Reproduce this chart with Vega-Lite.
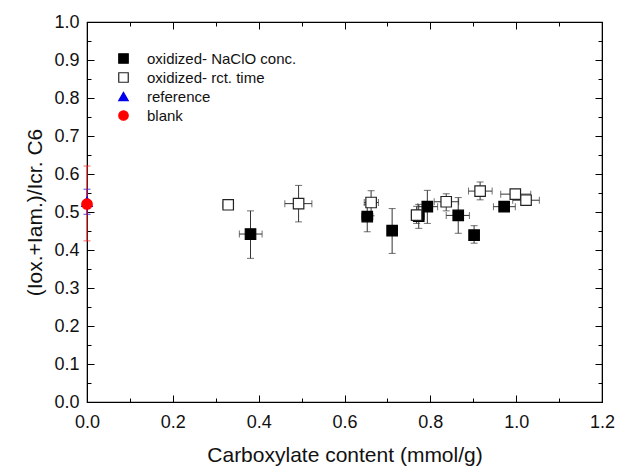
{
  "$schema": "https://vega.github.io/schema/vega-lite/v6.json",
  "width": 515,
  "height": 380,
  "autosize": {"type": "none"},
  "padding": {"left": 87, "top": 22, "right": 17, "bottom": 66},
  "background": "white",
  "config": {
    "font": "Liberation Sans",
    "view": {"stroke": "black", "strokeWidth": 1.2},
    "axis": {
      "domainColor": "black",
      "tickColor": "black",
      "grid": false,
      "labelFlush": false,
      "labelFont": "Liberation Sans",
      "titleFont": "Liberation Sans",
      "labelColor": "#111",
      "titleColor": "#111",
      "labelFontSize": 18,
      "titleFontSize": 21,
      "titleFontWeight": "normal"
    }
  },
  "data": {
    "values": [
      {"series": "oxidized- NaClO conc.", "x": 0.381, "y": 0.442, "xlo": 0.355, "xhi": 0.408, "ylo": 0.378, "yhi": 0.503},
      {"series": "oxidized- NaClO conc.", "x": 0.653, "y": 0.488, "xlo": 0.640, "xhi": 0.666, "ylo": 0.448, "yhi": 0.520},
      {"series": "oxidized- NaClO conc.", "x": 0.711, "y": 0.451, "xlo": 0.705, "xhi": 0.717, "ylo": 0.391, "yhi": 0.509},
      {"series": "oxidized- NaClO conc.", "x": 0.773, "y": 0.489, "xlo": 0.760, "xhi": 0.786, "ylo": 0.457, "yhi": 0.520},
      {"series": "oxidized- NaClO conc.", "x": 0.793, "y": 0.514, "xlo": 0.771, "xhi": 0.817, "ylo": 0.470, "yhi": 0.557},
      {"series": "oxidized- NaClO conc.", "x": 0.865, "y": 0.491, "xlo": 0.837, "xhi": 0.891, "ylo": 0.444, "yhi": 0.538},
      {"series": "oxidized- NaClO conc.", "x": 0.902, "y": 0.439, "xlo": 0.895, "xhi": 0.909, "ylo": 0.418, "yhi": 0.464},
      {"series": "oxidized- NaClO conc.", "x": 0.972, "y": 0.514, "xlo": 0.947, "xhi": 0.998, "ylo": 0.506, "yhi": 0.522},
      {"series": "oxidized- rct. time", "x": 0.329, "y": 0.519, "xlo": 0.317, "xhi": 0.341, "ylo": 0.508, "yhi": 0.530},
      {"series": "oxidized- rct. time", "x": 0.493, "y": 0.522, "xlo": 0.461, "xhi": 0.524, "ylo": 0.474, "yhi": 0.570},
      {"series": "oxidized- rct. time", "x": 0.662, "y": 0.525, "xlo": 0.646, "xhi": 0.679, "ylo": 0.490, "yhi": 0.556},
      {"series": "oxidized- rct. time", "x": 0.768, "y": 0.492, "xlo": 0.756, "xhi": 0.780, "ylo": 0.470, "yhi": 0.515},
      {"series": "oxidized- rct. time", "x": 0.837, "y": 0.527, "xlo": 0.809, "xhi": 0.866, "ylo": 0.503, "yhi": 0.548},
      {"series": "oxidized- rct. time", "x": 0.916, "y": 0.555, "xlo": 0.889, "xhi": 0.944, "ylo": 0.532, "yhi": 0.579},
      {"series": "oxidized- rct. time", "x": 0.998, "y": 0.547, "xlo": 0.964, "xhi": 1.034, "ylo": 0.535, "yhi": 0.558},
      {"series": "oxidized- rct. time", "x": 1.023, "y": 0.531, "xlo": 0.992, "xhi": 1.054, "ylo": 0.523, "yhi": 0.539},
      {"series": "reference", "x": 0.0, "y": 0.527, "xlo": 0.0, "xhi": 0.0, "ylo": 0.494, "yhi": 0.560},
      {"series": " blank", "x": 0.0, "y": 0.521, "xlo": 0.0, "xhi": 0.0, "ylo": 0.424, "yhi": 0.621}
    ]
  },
  "layer": [
    {
      "mark": {"type": "errorbar", "ticks": {"size": 7}, "thickness": 1},
      "encoding": {
        "x": {"field": "x", "type": "quantitative", "scale": {"domain": [0, 1.2], "nice": false, "zero": false},
          "axis": {
            "values": [0, 0.1, 0.2, 0.3, 0.4, 0.5, 0.6, 0.7, 0.8, 0.9, 1.0, 1.1, 1.2],
            "labelExpr": "round(datum.value*10) % 2 == 0 ? format(datum.value, '.1f') : ''",
            "tickSize": {"condition": {"test": "round(datum.value*10) % 2 == 0", "value": -7}, "value": -4},
            "labelPadding": 18,
            "title": "Carboxylate content (mmol/g)",
            "titlePadding": 13
          }},
        "y": {"field": "ylo", "type": "quantitative", "scale": {"domain": [0, 1], "nice": false, "zero": false},
          "axis": {
            "values": [0, 0.05, 0.1, 0.15, 0.2, 0.25, 0.3, 0.35, 0.4, 0.45, 0.5, 0.55, 0.6, 0.65, 0.7, 0.75, 0.8, 0.85, 0.9, 0.95, 1.0],
            "labelExpr": "round(datum.value*20) % 2 == 0 ? format(datum.value, '.1f') : ''",
            "tickSize": {"condition": {"test": "round(datum.value*20) % 2 == 0", "value": -7}, "value": -4},
            "labelPadding": 15,
            "title": "(Iox.+Iam.)/Icr. C6",
            "titlePadding": 8
          }},
        "y2": {"field": "yhi"},
        "color": {"condition": [{"test": "datum.series == 'reference'", "value": "#0000ee"}, {"test": "datum.series == ' blank'", "value": "#ff2222"}], "value": "#333333"}
      }
    },
    {
      "mark": {"type": "errorbar", "ticks": {"size": 7}, "thickness": 1},
      "encoding": {
        "x": {"field": "xlo", "type": "quantitative", "axis": null},
        "x2": {"field": "xhi"},
        "y": {"field": "y", "type": "quantitative", "axis": null},
        "color": {"condition": [{"test": "datum.series == 'reference'", "value": "#0000ee"}, {"test": "datum.series == ' blank'", "value": "#ff2222"}], "value": "#333333"}
      }
    },
    {
      "mark": {"type": "point", "filled": false, "opacity": 1, "strokeWidth": 1.2},
      "encoding": {
        "x": {"field": "x", "type": "quantitative", "axis": null},
        "y": {"field": "y", "type": "quantitative", "axis": null},
        "shape": {"field": "series", "type": "nominal",
          "scale": {"domain": ["oxidized- NaClO conc.", "oxidized- rct. time", "reference", " blank"], "range": ["square", "square", "triangle-up", "circle"]},
          "legend": {"orient": "top-left", "offset": 29, "title": null, "labelFontSize": 15, "labelFont": "Liberation Sans", "labelColor": "#111", "symbolSize": 90, "rowPadding": 3, "labelOffset": 16, "symbolStrokeWidth": 1.2}},
        "fill": {"field": "series", "type": "nominal",
          "scale": {"domain": ["oxidized- NaClO conc.", "oxidized- rct. time", "reference", " blank"], "range": ["black", "white", "#0000ee", "#ff0000"]}},
        "stroke": {"field": "series", "type": "nominal",
          "scale": {"domain": ["oxidized- NaClO conc.", "oxidized- rct. time", "reference", " blank"], "range": ["black", "#222222", "#0000ee", "#ff0000"]}},
        "size": {"value": 110}
      }
    },
    {
      "mark": {"type": "point", "opacity": 0},
      "encoding": {
        "x": {"field": "x", "type": "quantitative",
          "axis": {"orient": "top", "labels": false, "title": null,
            "values": [0, 0.1, 0.2, 0.3, 0.4, 0.5, 0.6, 0.7, 0.8, 0.9, 1.0, 1.1, 1.2],
            "tickSize": {"condition": {"test": "round(datum.value*10) % 2 == 0", "value": -7}, "value": -4}}},
        "y": {"field": "y", "type": "quantitative",
          "axis": {"orient": "right", "labels": false, "title": null,
            "values": [0, 0.05, 0.1, 0.15, 0.2, 0.25, 0.3, 0.35, 0.4, 0.45, 0.5, 0.55, 0.6, 0.65, 0.7, 0.75, 0.8, 0.85, 0.9, 0.95, 1.0],
            "tickSize": {"condition": {"test": "round(datum.value*20) % 2 == 0", "value": -7}, "value": -4}}}
      }
    }
  ],
  "resolve": {"axis": {"x": "independent", "y": "independent"}}
}
